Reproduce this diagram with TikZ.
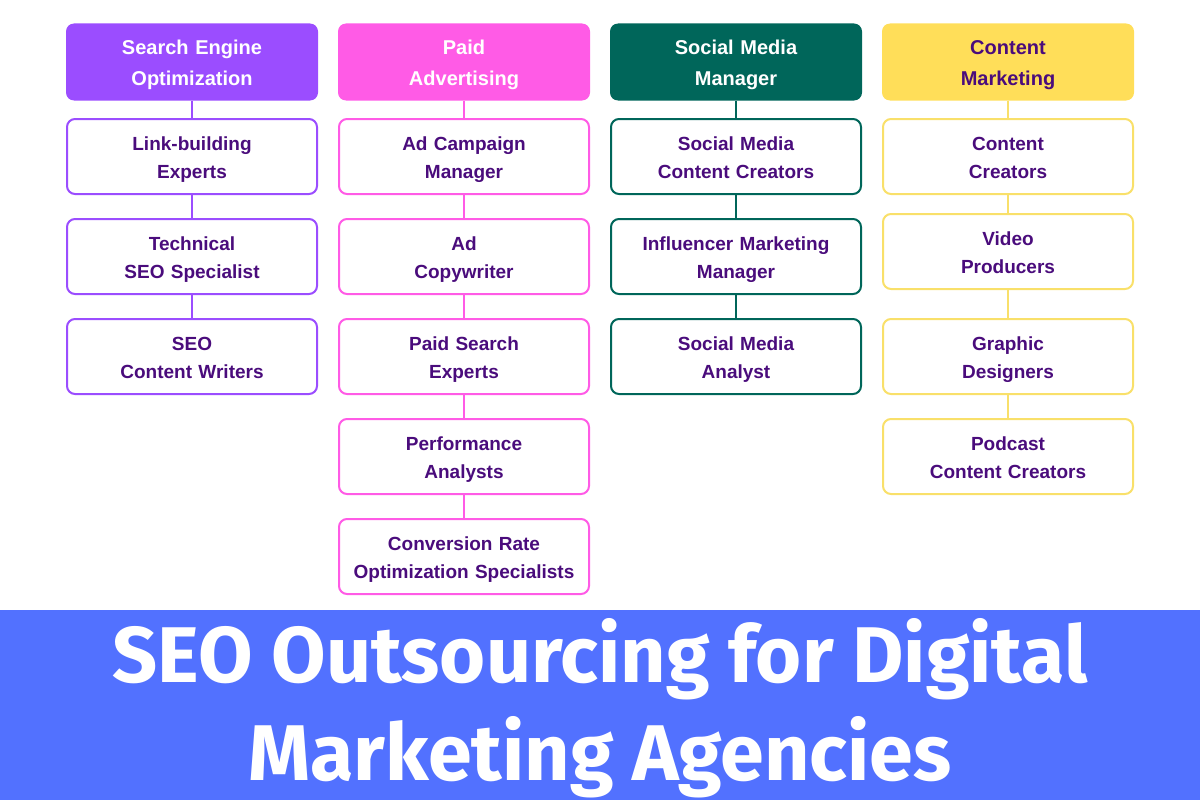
\documentclass[tikz,border=0pt]{standalone}
\usepackage{fontspec}
\setmainfont{Liberation Sans}
\newfontfamily\titlefont{Fira Sans}
\usetikzlibrary{positioning}
\definecolor{seocol}{HTML}{9B4DFF}
\definecolor{paidcol}{HTML}{FF5BE6}
\definecolor{socialcol}{HTML}{00665A}
\definecolor{contentcol}{HTML}{FFDE59}
\definecolor{contentline}{HTML}{F9E06A}
\definecolor{labelcol}{HTML}{4A0C7C}
\definecolor{bannercol}{HTML}{5271FF}
\tikzstyle{headrect} = [rectangle, rounded corners=8pt, minimum width=252pt,
    minimum height=77pt, text width=240pt, align=center,
    text height=18pt, text depth=33.6pt,
    font=\bfseries\fontsize{20}{31}\selectfont]
\tikzstyle{childrect} = [rectangle, rounded corners=8pt, minimum width=250pt,
    minimum height=75pt, text width=240pt, align=center, line width=2pt,
    text height=19.5pt, text depth=32.5pt,
    fill=white, text=labelcol, font=\bfseries\fontsize{19}{28.5}\selectfont]
\tikzstyle{link} = [line width=2pt]

\begin{document}
\begin{tikzpicture}[x=1pt, y=-1pt, node distance=100pt]
    \useasboundingbox (0,0) rectangle (1200,800);
    % header nodes
    \node (SEOHead) [headrect, fill=seocol, text=white] at (192,62) {Search Engine\\Optimization};
    \node (PaidHead) [headrect, fill=paidcol, text=white] at (464,62) {Paid\\Advertising};
    \node (SocialHead) [headrect, fill=socialcol, text=white] at (736,62) {Social Media\\Manager};
    \node (ContentHead) [headrect, fill=contentcol, text=labelcol] at (1008,62) {Content\\Marketing};

    % search engine optimization nodes
    \node (SEOLink) [childrect, draw=seocol, below of=SEOHead, yshift=5.5pt] {Link-building\\Experts};
    \node (SEOTech) [childrect, draw=seocol, below of=SEOLink] {Technical\\SEO Specialist};
    \node (SEOWriter) [childrect, draw=seocol, below of=SEOTech] {SEO\\Content Writers};

    % paid advertising nodes
    \node (PaidCampaign) [childrect, draw=paidcol, below of=PaidHead, yshift=5.5pt] {Ad Campaign\\Manager};
    \node (PaidCopy) [childrect, draw=paidcol, below of=PaidCampaign] {Ad\\Copywriter};
    \node (PaidSearch) [childrect, draw=paidcol, below of=PaidCopy] {Paid Search\\Experts};
    \node (PaidPerf) [childrect, draw=paidcol, below of=PaidSearch] {Performance\\Analysts};
    \node (PaidConv) [childrect, draw=paidcol, below of=PaidPerf] {Conversion Rate\\Optimization Specialists};

    % social media nodes
    \node (SocialCreators) [childrect, draw=socialcol, below of=SocialHead, yshift=5.5pt] {Social Media\\Content Creators};
    \node (SocialInfluencer) [childrect, draw=socialcol, below of=SocialCreators] {Influencer Marketing\\Manager};
    \node (SocialAnalyst) [childrect, draw=socialcol, below of=SocialInfluencer] {Social Media\\Analyst};

    % content marketing nodes
    \node (ContentCreators) [childrect, draw=contentline, below of=ContentHead, yshift=5.5pt] {Content\\Creators};
    \node (ContentVideo) [childrect, draw=contentline, below of=ContentCreators, yshift=5pt] {Video\\Producers};
    \node (ContentGraphic) [childrect, draw=contentline, below of=ContentVideo, yshift=-5pt] {Graphic\\Designers};
    \node (ContentPodcast) [childrect, draw=contentline, below of=ContentGraphic] {Podcast\\Content Creators};

    % links
    \draw [link, seocol] (SEOHead) -- (SEOLink);
    \draw [link, seocol] (SEOLink) -- (SEOTech);
    \draw [link, seocol] (SEOTech) -- (SEOWriter);

    \draw [link, paidcol] (PaidHead) -- (PaidCampaign);
    \draw [link, paidcol] (PaidCampaign) -- (PaidCopy);
    \draw [link, paidcol] (PaidCopy) -- (PaidSearch);
    \draw [link, paidcol] (PaidSearch) -- (PaidPerf);
    \draw [link, paidcol] (PaidPerf) -- (PaidConv);

    \draw [link, socialcol] (SocialHead) -- (SocialCreators);
    \draw [link, socialcol] (SocialCreators) -- (SocialInfluencer);
    \draw [link, socialcol] (SocialInfluencer) -- (SocialAnalyst);

    \draw [link, contentline] (ContentHead) -- (ContentCreators);
    \draw [link, contentline] (ContentCreators) -- (ContentVideo);
    \draw [link, contentline] (ContentVideo) -- (ContentGraphic);
    \draw [link, contentline] (ContentGraphic) -- (ContentPodcast);

    % banner
    \fill [bannercol] (0,610) rectangle (1200,800);
    \node (TitleTop) [anchor=base, text=white, font=\titlefont\bfseries\fontsize{79}{100}\selectfont] at (600,682) {SEO Outsourcing for Digital};
    \node (TitleBottom) [anchor=base, text=white, font=\titlefont\bfseries\fontsize{79}{100}\selectfont] at (600,780) {Marketing Agencies};
\end{tikzpicture}
\end{document}
